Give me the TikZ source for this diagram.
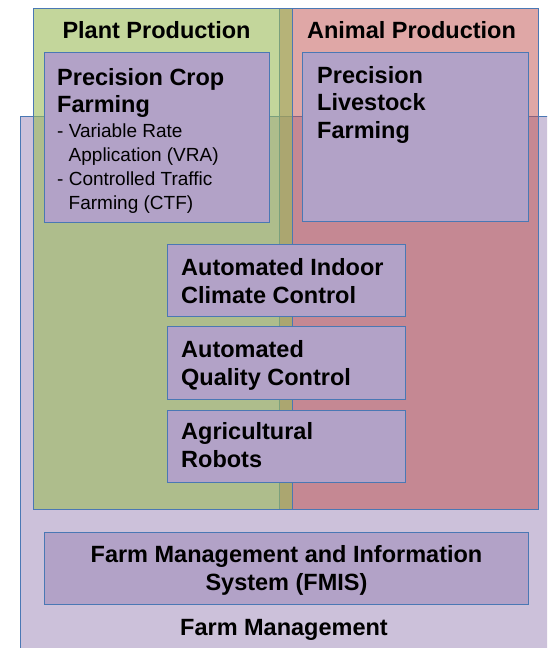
\documentclass[tikz,border=0pt]{standalone}
\usepackage{fontspec}
\setmainfont{Liberation Sans}
\usetikzlibrary{calc}
\definecolor{bordc}{RGB}{74,120,180}
\definecolor{lav}{RGB}{204,193,218}
\definecolor{boxc}{RGB}{178,162,199}
\definecolor{grn}{RGB}{155,187,89}
\definecolor{rd}{RGB}{192,80,77}
\begin{document}
\begin{tikzpicture}[x=1pt,y=-1pt,
  region/.style={draw=bordc, line width=1pt},
  pbox/.style={draw=bordc, fill=boxc, line width=1pt, inner sep=0pt, anchor=north west},
  big/.style={font=\fontsize{23.5}{28}\selectfont\bfseries, inner sep=0pt, anchor=base west},
  bigc/.style={font=\fontsize{23.5}{28}\selectfont\bfseries, inner sep=0pt, anchor=base},
  small/.style={font=\fontsize{19}{24}\selectfont, inner sep=0pt, anchor=base west},
]
\useasboundingbox (0,0) rectangle (547,648);
\clip (0,0) rectangle (547,648);
% regions
\draw[region, fill=lav] (20,116) rectangle (580,680);
\draw[region, fill=rd, fill opacity=0.5] (279,8) rectangle (538,509);
\draw[region, fill=grn, fill opacity=0.6] (33,8) rectangle (292,509);
\node[bigc] (plant) at (156.5,38) {Plant Production};
\node[bigc] (animal) at (411.5,38) {Animal Production};
\node[bigc] (fm) at (284,635) {Farm Management};
% boxes
\node[pbox, minimum width=225, minimum height=170] (crop) at (44,52) {};
\node[pbox, minimum width=226, minimum height=169] (live) at (302,52) {};
\node[pbox, minimum width=238, minimum height=72] (climate) at (167,244) {};
\node[pbox, minimum width=238, minimum height=73] (quality) at (167,326) {};
\node[pbox, minimum width=238, minimum height=72] (robots) at (167,410) {};
\node[pbox, minimum width=484, minimum height=72.5] (fmis) at (44,531.5) {};
% crop text
\node[big] (crop1) at ($(crop.north west)+(13,33)$) {Precision Crop};
\node[big] (crop2) at ($(crop.north west)+(13,60)$) {Farming};
\node[small] (crop3) at ($(crop.north west)+(13,85)$) {- Variable Rate};
\node[small] (crop4) at ($(crop.north west)+(24.5,109)$) {Application (VRA)};
\node[small] (crop5) at ($(crop.north west)+(13,133)$) {- Controlled Traffic};
\node[small] (crop6) at ($(crop.north west)+(24.5,157)$) {Farming (CTF)};
% livestock text
\node[big] (live1) at ($(live.north west)+(15,31)$) {Precision};
\node[big] (live2) at ($(live.north west)+(15,58.5)$) {Livestock};
\node[big] (live3) at ($(live.north west)+(15,86)$) {Farming};
% middle boxes
\node[big] (cl1) at ($(climate.north west)+(14,31)$) {Automated Indoor};
\node[big] (cl2) at ($(climate.north west)+(14,59)$) {Climate Control};
\node[big] (qu1) at ($(quality.north west)+(14,31)$) {Automated};
\node[big] (qu2) at ($(quality.north west)+(14,59)$) {Quality Control};
\node[big] (ro1) at ($(robots.north west)+(14,29)$) {Agricultural};
\node[big] (ro2) at ($(robots.north west)+(14,57)$) {Robots};
% fmis
\node[bigc] (fm1) at ($(fmis.north)+(0,30.5)$) {Farm Management and Information};
\node[bigc] (fm2) at ($(fmis.north)+(0,58.5)$) {System (FMIS)};
\end{tikzpicture}
\end{document}
